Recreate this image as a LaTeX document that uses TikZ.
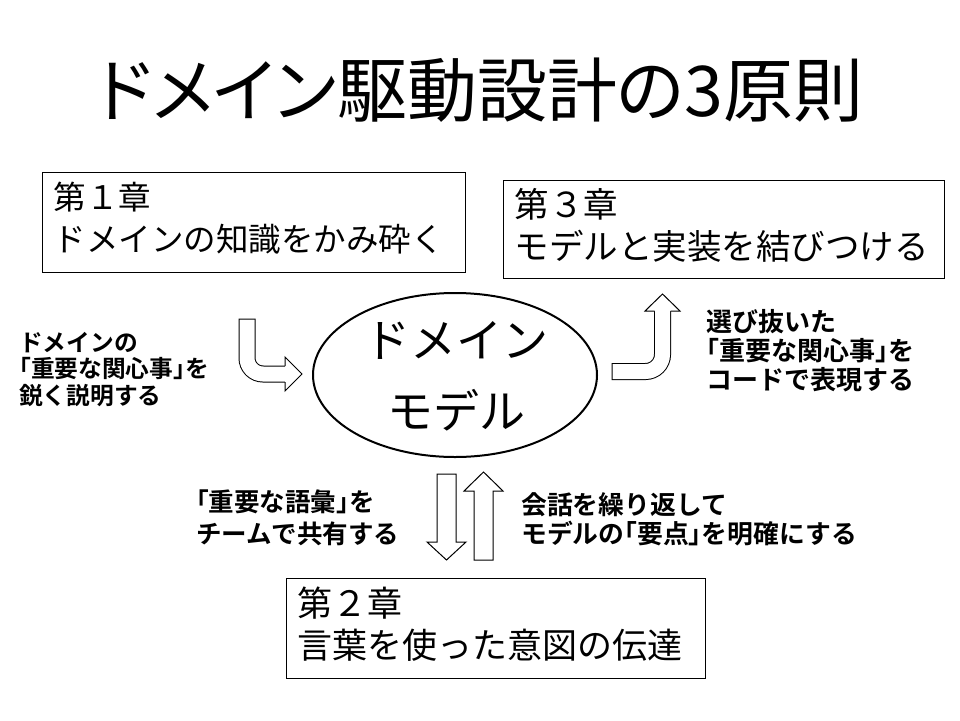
\documentclass[tikz,border=0pt]{standalone}
\usepackage{fontspec}
\setmainfont{Noto Sans CJK JP}[BoldFont={Noto Sans CJK JP Bold}]
\newfontfamily\titlefont{Noto Sans CJK JP}[RawFeature=+palt]
\usetikzlibrary{shapes.geometric}
\tikzset{
	chapbox/.style = {
		shape=rectangle,
		draw,
		line width=1pt,
		align=left,
		anchor=north west,
		inner xsep=11pt,
		text depth=54pt
	},
	notetext/.style = {
		align=left,
		anchor=north west,
		inner sep=0pt
	},
	hollow/.style = {
		draw,
		fill=white,
		line width=1pt
	}
}
\begin{document}
\begin{tikzpicture}[x=1pt,y=-1pt]
		\useasboundingbox (0,0) rectangle (960,720);
		% title
		\node[font=\titlefont\fontsize{70}{70}\selectfont] (title) at (480,90) {ドメイン駆動設計の3原則};
		% chapters
		\node[chapbox, text width=401pt, minimum height=100pt, font=\fontsize{32.5}{42}\selectfont] (chap1) at (42,172) {
			第１章\\
			ドメインの知識をかみ砕く
		};
		\node[chapbox, text width=419pt, minimum height=98pt, font=\fontsize{34.5}{42}\selectfont] (chap3) at (503,180) {
			第３章\\
			モデルと実装を結びつける
		};
		\node[chapbox, text width=397pt, minimum height=100pt, font=\fontsize{35}{42}\selectfont] (chap2) at (286,578) {
			第２章\\
			言葉を使った意図の伝達
		};
		% model
		\node[ellipse, draw, line width=2pt, minimum width=284pt, minimum height=164pt, inner sep=0pt] (model) at (455,375) {};
		\node[align=center, font=\fontsize{46}{71}\selectfont] (modeltext) at (456,376.5) {ドメイン\\モデル};
		% notes
		\node[notetext, font=\bfseries\fontsize{23.7}{26.5}\selectfont] (note1) at (19,332) {
			ドメインの\\
			｢重要な関心事｣を\\
			鋭く説明する
		};
		\node[notetext, font=\bfseries\fontsize{26}{29}\selectfont] (note3) at (706,309) {
			選び抜いた\\
			｢重要な関心事｣を\\
			コードで表現する
		};
		\node[notetext, font=\bfseries\fontsize{25.5}{32}\selectfont] (note2a) at (196,489.5) {
			｢重要な語彙｣を\\
			チームで共有する
		};
		\node[notetext, font=\bfseries\fontsize{25.8}{29.5}\selectfont] (note2b) at (521,492) {
			会話を繰り返して\\
			モデルの｢要点｣を明確にする
		};
		% bent arrow into the model
		\draw[line width=17pt, rounded corners=16pt] (247,318.5) -- (247,374) -- (287,374);
		\draw[line width=15pt, white, rounded corners=16pt] (247,319.5) -- (247,374) -- (288,374);
		\draw[hollow] (285,366) -- (285,357) -- (302,374) -- (285,391) -- (285,382);
		% bent arrow out to chapter 3
		\draw[line width=17pt, rounded corners=17pt] (611.5,371.5) -- (662.5,371.5) -- (662.5,310);
		\draw[line width=15pt, white, rounded corners=17pt] (612.5,371.5) -- (662.5,371.5) -- (662.5,309);
		\draw[hollow] (654.5,311) -- (645,311) -- (662.5,294) -- (680,311) -- (670.5,311);
		% down and up arrows
		\draw[hollow] (437,474) -- (456,474) -- (456,542) -- (466,542) -- (446.5,560) -- (427,542) -- (437,542) -- cycle;
		\draw[hollow] (474,560) -- (493,560) -- (493,491) -- (503,491) -- (483.5,472) -- (464,491) -- (474,491) -- cycle;
		\end{tikzpicture}
\end{document}
